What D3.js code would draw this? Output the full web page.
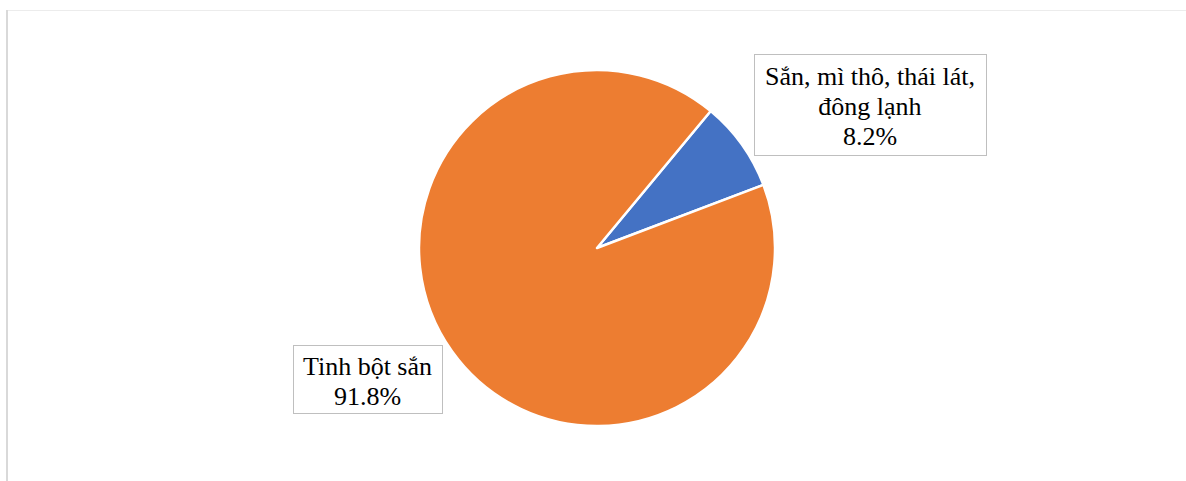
<!DOCTYPE html>
<html>
<head>
<meta charset="utf-8">
<script src="https://cdn.jsdelivr.net/npm/d3@7"></script>
<style>
  html, body { margin: 0; padding: 0; background: #ffffff; }
  svg { display: block; }
</style>
</head>
<body>
<svg id="chart" width="1186" height="481"></svg>
<script>
// Export share by product group
const categories = ["Sắn, mì thô, thái lát, đông lạnh", "Tinh bột sắn"];
const labelLines = [["Sắn, mì thô, thái lát,", "đông lạnh"], ["Tinh bột sắn"]];
const shares = [8.2, 91.8];
const colors = ["#4472C4", "#ED7D31"];

const svg = d3.select("#chart");
const W = 1186, H = 481;

// chart area frame
svg.append("line").attr("x1", 7).attr("x2", W).attr("y1", 10.5).attr("y2", 10.5)
  .attr("stroke", "#ececec").attr("stroke-width", 1);
svg.append("line").attr("x1", 7).attr("x2", 7).attr("y1", 10).attr("y2", H)
  .attr("stroke", "#d9d9d9").attr("stroke-width", 2);

const cx = 597, cy = 248, R = 178;
const startDeg = 39.7;

const pie = d3.pie().sort(null).value(d => d)
  .startAngle(startDeg * Math.PI / 180)
  .endAngle((startDeg + 360) * Math.PI / 180);
const arc = d3.arc().innerRadius(0).outerRadius(R);

const g = svg.append("g").attr("transform", `translate(${cx},${cy})`);
g.selectAll("path").data(pie(shares)).join("path")
  .attr("d", arc)
  .attr("fill", (d, i) => colors[i])
  .attr("stroke", "#ffffff")
  .attr("stroke-width", 2.5)
  .attr("stroke-linejoin", "round");

// data labels with boxes
const boxes = [
  { x: 754, y: 54, w: 232, h: 101, first: 85 },
  { x: 293, y: 345, w: 149, h: 68, first: 375 }
];
const lineH = 30;
const fmt = v => v.toFixed(1) + "%";

boxes.forEach((b, i) => {
  const lg = svg.append("g");
  lg.append("rect").attr("x", b.x + 0.5).attr("y", b.y + 0.5)
    .attr("width", b.w).attr("height", b.h)
    .attr("fill", "#ffffff").attr("stroke", "#bfbfbf").attr("stroke-width", 1);
  const lines = labelLines[i].concat([fmt(shares[i])]);
  lg.selectAll("text").data(lines).join("text")
    .attr("x", b.x + b.w / 2)
    .attr("y", (d, j) => b.first + j * lineH)
    .attr("text-anchor", "middle")
    .attr("font-family", "'Liberation Serif', 'Times New Roman', serif")
    .attr("font-size", 26)
    .attr("fill", "#000000")
    .text(d => d);
});
</script>
</body>
</html>
